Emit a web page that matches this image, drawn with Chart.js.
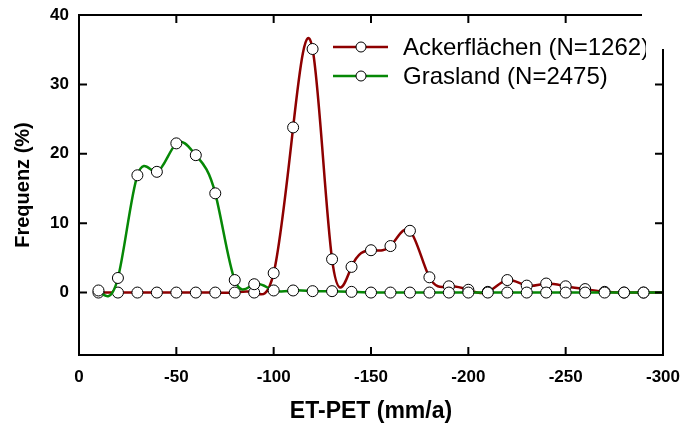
<!DOCTYPE html>
<html>
<head>
<meta charset="utf-8">
<script src="https://cdn.jsdelivr.net/npm/chart.js@4.4.1/dist/chart.umd.min.js"></script>
<style>
  html, body { margin: 0; padding: 0; background: #fff; }
  #wrap { width: 682px; height: 428px; }
</style>
</head>
<body>
<div id="wrap"><canvas id="freqChart" width="682" height="428"></canvas></div>
<script>
// ET-PET classes (mm/a), one point every 10 mm/a (last one sits on the axis, no marker)
const etBins = [-10, -20, -30, -40, -50, -60, -70, -80, -90, -100,
  -110, -120, -130, -140, -150, -160, -170, -180, -190, -200,
  -210, -220, -230, -240, -250, -260, -270, -280, -290, -300];

// Frequenz (%) per class
const ackerValues = [0, 0, 0, 0, 0, 0, 0, 0, 0, 2.8,
  23.8, 35.1, 4.8, 3.7, 6.1, 6.7, 8.9, 2.2, 0.9, 0.4,
  0.1, 1.8, 1.0, 1.3, 0.9, 0.5, 0.1, 0, 0, 0];
const grasValues = [0.3, 2.1, 16.9, 17.4, 21.5, 19.8, 14.3, 1.8, 1.2, 0.3,
  0.3, 0.2, 0.2, 0.1, 0, 0, 0, 0, 0, 0,
  0, 0, 0, 0, 0, 0, 0, 0, 0, 0];

const seriesLabels = ["Ackerflächen (N=1262)", "Grasland (N=2475)"];
const seriesColors = ["#8e0000", "#068806"];

const xTicks = [0, -50, -100, -150, -200, -250, -300];
const yTicks = [0, 10, 20, 30, 40];

const FONT = "'Liberation Sans', Arial, sans-serif";

function toPoints(values) {
  return etBins.map((x, i) => ({ x: x, y: values[i] }));
}

function makeDataset(i, values, order) {
  return {
    label: seriesLabels[i],
    data: toPoints(values),
    borderColor: seriesColors[i],
    backgroundColor: "#fff",
    borderWidth: 2.5,
    tension: 0.4,
    // no marker on the point that lies on the right axis
    pointRadius: (c) => (c.dataIndex === etBins.length - 1 ? 0 : 5.5),
    pointBorderWidth: 1,
    pointBorderColor: "#000",
    pointBackgroundColor: "#fff",
    order: order,
  };
}

// slopes of a natural cubic spline through ys, parameter = point index
function splineSlopes(ys) {
  const n = ys.length;
  const M = new Array(n).fill(0);
  if (n > 2) {
    // tridiagonal solve for inner second derivatives
    const c = new Array(n).fill(0);
    const d = new Array(n).fill(0);
    for (let i = 1; i < n - 1; i++) {
      const r = 6 * (ys[i + 1] - 2 * ys[i] + ys[i - 1]);
      const m = 4 - (i > 1 ? c[i - 1] : 0);
      c[i] = 1 / m;
      d[i] = (r - (i > 1 ? d[i - 1] : 0)) / m;
    }
    for (let i = n - 2; i >= 1; i--) {
      M[i] = d[i] - c[i] * M[i + 1];
    }
  }
  const s = [];
  for (let i = 0; i < n - 1; i++) {
    s.push(ys[i + 1] - ys[i] - (2 * M[i] + M[i + 1]) / 6);
  }
  s.push(ys[n - 1] - ys[n - 2] + (M[n - 2] + 2 * M[n - 1]) / 6);
  return s;
}

// Let the line element use spline control points (like the original plot software)
const splinePlugin = {
  id: "naturalSpline",
  beforeDatasetDraw(chart, args) {
    const meta = args.meta;
    const line = meta.dataset;
    if (!line) return;
    line.updateControlPoints(chart.chartArea, "x");
    const xs = meta._parsed.map((p) => p.x);
    const ys = meta._parsed.map((p) => p.y);
    const slopes = splineSlopes(ys);
    const xScale = meta.xScale;
    const yScale = meta.yScale;
    meta.data.forEach((pt, i) => {
      const stepPrev = i > 0 ? xs[i] - xs[i - 1] : xs[1] - xs[0];
      const stepNext = i < xs.length - 1 ? xs[i + 1] - xs[i] : stepPrev;
      pt.cp1x = xScale.getPixelForValue(xs[i] - stepPrev / 3);
      pt.cp1y = yScale.getPixelForValue(ys[i] - slopes[i] / 3);
      pt.cp2x = xScale.getPixelForValue(xs[i] + stepNext / 3);
      pt.cp2y = yScale.getPixelForValue(ys[i] + slopes[i] / 3);
    });
    delete line._path;
  },
};

// Frame with inward ticks, open at the top right corner under the legend
const framePlugin = {
  id: "frame",
  afterDatasetsDraw(chart) {
    const { ctx, chartArea: a, scales } = chart;
    const gapX = a.right - 21;
    const gapY = a.top + 34;
    ctx.save();
    ctx.strokeStyle = "#000";
    ctx.lineWidth = 2;
    ctx.beginPath();
    ctx.moveTo(gapX, a.top);
    ctx.lineTo(a.left, a.top);
    ctx.lineTo(a.left, a.bottom);
    ctx.lineTo(a.right, a.bottom);
    ctx.lineTo(a.right, gapY);
    scales.x.ticks.forEach((t) => {
      const px = scales.x.getPixelForValue(t.value);
      if (px <= a.left + 1 || px >= a.right - 1) return;
      ctx.moveTo(px, a.bottom);
      ctx.lineTo(px, a.bottom - 8);
      if (px < gapX) {
        ctx.moveTo(px, a.top);
        ctx.lineTo(px, a.top + 8);
      }
    });
    scales.y.ticks.forEach((t) => {
      const py = scales.y.getPixelForValue(t.value);
      if (py <= a.top + 1) return;
      ctx.moveTo(a.left, py);
      ctx.lineTo(a.left + 8, py);
      if (py > gapY) {
        ctx.moveTo(a.right, py);
        ctx.lineTo(a.right - 8, py);
      }
    });
    ctx.stroke();
    ctx.restore();
  },
};

// Legend inside the plot, top right
const legendPlugin = {
  id: "innerLegend",
  afterDraw(chart) {
    const { ctx } = chart;
    ctx.save();
    ctx.beginPath();
    ctx.rect(0, 0, 646, 428);
    ctx.clip();
    chart.data.datasets.forEach((ds, i) => {
      const y = 47 + i * 29;
      ctx.strokeStyle = ds.borderColor;
      ctx.lineWidth = 2.5;
      ctx.beginPath();
      ctx.moveTo(333, y);
      ctx.lineTo(388, y);
      ctx.stroke();
      ctx.beginPath();
      ctx.arc(361, y, 5, 0, Math.PI * 2);
      ctx.fillStyle = "#fff";
      ctx.fill();
      ctx.lineWidth = 1;
      ctx.strokeStyle = "#000";
      ctx.stroke();
      ctx.fillStyle = "#000";
      ctx.font = "24px " + FONT;
      ctx.textBaseline = "middle";
      ctx.textAlign = "left";
      ctx.fillText(ds.label, 403, y + 1);
    });
    ctx.restore();
  },
};

const ctx = document.getElementById("freqChart").getContext("2d");
new Chart(ctx, {
  type: "line",
  data: {
    datasets: [makeDataset(0, ackerValues, 1), makeDataset(1, grasValues, 0)],
  },
  options: {
    responsive: false,
    animation: false,
    layout: { autoPadding: false, padding: { top: 15, right: 19, left: 0, bottom: 0 } },
    plugins: {
      legend: { display: false },
      tooltip: { enabled: false },
    },
    scales: {
      x: {
        type: "linear",
        reverse: true,
        min: -300,
        max: 0,
        afterBuildTicks: (s) => { s.ticks = xTicks.map((v) => ({ value: v })); },
        afterFit: (s) => {
          s.height = 73;
          s.paddingLeft = 0;
          s.paddingRight = 0;
        },
        grid: { display: false, drawTicks: false },
        border: { display: false },
        ticks: {
          color: "#000",
          padding: 12,
          maxRotation: 0,
          autoSkip: false,
          font: { family: FONT, size: 17, weight: "bold" },
          callback: (v) => String(v),
        },
        title: {
          display: true,
          text: "ET-PET (mm/a)",
          color: "#000",
          font: { family: FONT, size: 23, weight: "bold" },
          padding: { top: 0, bottom: 3 },
        },
      },
      y: {
        min: -9,
        max: 40,
        afterBuildTicks: (s) => { s.ticks = yTicks.map((v) => ({ value: v })); },
        afterFit: (s) => {
          s.width = 79;
          s.paddingTop = 0;
          s.paddingBottom = 0;
        },
        grid: { display: false, drawTicks: false },
        border: { display: false },
        ticks: {
          color: "#000",
          padding: 10,
          font: { family: FONT, size: 17, weight: "bold" },
          callback: (v) => String(v),
        },
        title: {
          display: true,
          text: "Frequenz (%)",
          color: "#000",
          font: { family: FONT, size: 20, weight: "bold" },
          padding: { top: 11, bottom: 0 },
        },
      },
    },
  },
  plugins: [splinePlugin, framePlugin, legendPlugin],
});
</script>
</body>
</html>
